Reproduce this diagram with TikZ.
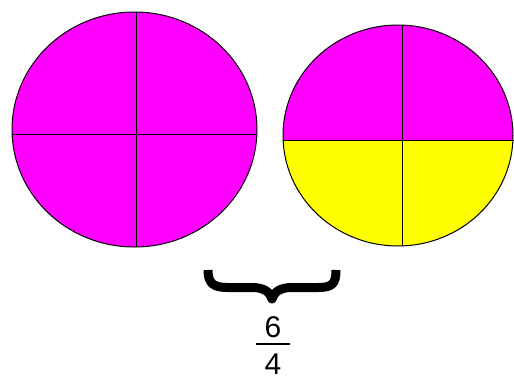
\documentclass[tikz,border=0pt]{standalone}
\usepackage{fontspec}
\setmainfont{Liberation Sans}
\definecolor{mag}{RGB}{255,0,255}
\definecolor{yel}{RGB}{255,255,0}
\tikzset{
  part/.style={draw=black, line width=1pt},
  divline/.style={draw=black, line width=1pt},
  bracestyle/.style={line width=9pt, line cap=butt, line join=round},
  digit/.style={font=\fontsize{30}{30}\selectfont, inner sep=0pt}
}
\begin{document}
\begin{tikzpicture}[x=1pt,y=-1pt]
\useasboundingbox (0,0) rectangle (514,378);
\clip (0,0) rectangle (514,378);
\fill[white] (0,0) rectangle (514,378);
% left circle
\draw[part, fill=mag] (134.5,129.5) ellipse [x radius=122.5, y radius=117.5];
\draw[divline] (136,12) -- (136,247);
\draw[divline] (12,134) -- (257,134);
% right circle
\begin{scope}
\clip (398,135.5) ellipse [x radius=115, y radius=110.5];
\fill[mag] (280,20) rectangle (520,140);
\fill[yel] (280,140) rectangle (520,250);
\end{scope}
\draw[part] (398,135.5) ellipse [x radius=115, y radius=110.5];
\draw[divline] (402,25) -- (402,246);
\draw[divline] (283,140) -- (514,140);
% brace
\draw[bracestyle] (208,270) .. controls (208,284) and (214,287.5) .. (228,287.5)
  -- (252,287.5) .. controls (264,287.5) and (270,292) .. (272,299)
  .. controls (274,292) and (280,287.5) .. (292,287.5)
  -- (318,287.5) .. controls (332,287.5) and (336,284) .. (336,270);
% fraction
\node[digit] (num) at (273,327) {6};
\node[digit] (den) at (273,364.5) {4};
\draw[line width=1.5pt] (256,344) -- (290,344);
\end{tikzpicture}
\end{document}
